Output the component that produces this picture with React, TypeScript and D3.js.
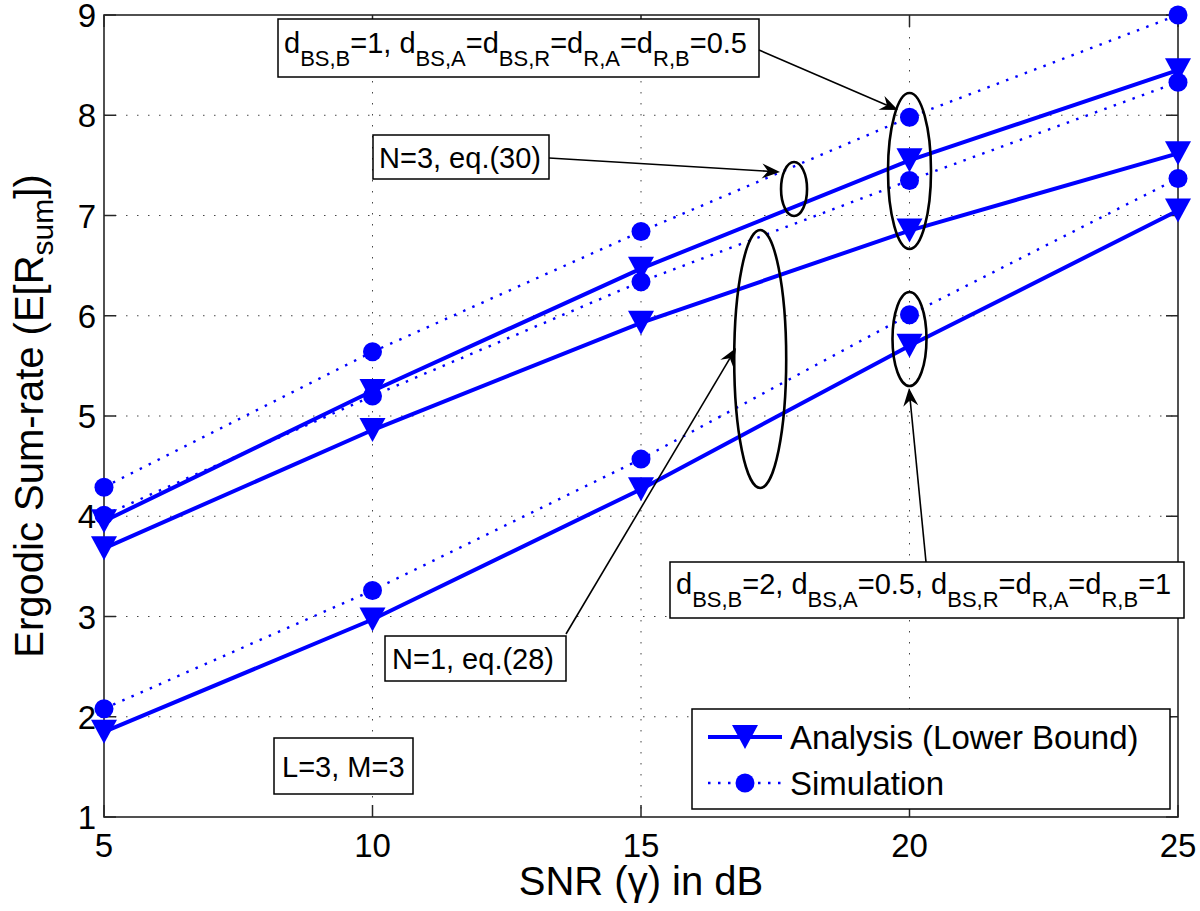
import React from 'react';
import * as d3 from 'd3';

// ---- data ----
const snr = [5, 10, 15, 20, 25];
const analysisN3 = [3.95, 5.25, 6.47, 7.55, 8.45];
const simN3 = [4.29, 5.64, 6.84, 7.98, 9.0];
const analysisN1 = [3.68, 4.86, 5.93, 6.85, 7.62];
const simN1 = [4.01, 5.2, 6.34, 7.35, 8.33];
const analysisCfg2 = [1.85, 2.97, 4.27, 5.7, 7.05];
const simCfg2 = [2.08, 3.26, 4.57, 6.01, 7.37];
const xTicks = [5, 10, 15, 20, 25];
const yTicks = [1, 2, 3, 4, 5, 6, 7, 8, 9];

const W = 1200;
const H = 911;
const M = { left: 104, right: 1178, top: 15, bottom: 817 };
const BLUE = '#0000ff';
const FONT = '"Liberation Sans", Arial, Helvetica, sans-serif';
const AX = '#262626';

type Seg = { t: string; sub?: boolean };

function RichText({ x, y, segs, size, subSize, subDy, anchor, transform }: {
  x: number; y: number; segs: Seg[]; size: number; subSize: number; subDy: number; anchor?: string; transform?: string;
}) {
  const out: React.ReactNode[] = [];
  let down = false;
  segs.forEach((s, i) => {
    let dy = 0;
    if (s.sub && !down) { dy = subDy; down = true; }
    else if (!s.sub && down) { dy = -subDy; down = false; }
    out.push(
      <tspan key={i} dy={dy} fontSize={s.sub ? subSize : size}>{s.t}</tspan>
    );
  });
  return (
    <text x={x} y={y} fontFamily={FONT} fontSize={size} fill="#000" textAnchor={anchor || 'start'} transform={transform}>
      {out}
    </text>
  );
}

function Arrow({ x1, y1, x2, y2 }: { x1: number; y1: number; x2: number; y2: number }) {
  const dx = x2 - x1, dy = y2 - y1;
  const len = Math.hypot(dx, dy);
  const ux = dx / len, uy = dy / len;
  const px = -uy, py = ux;
  const L = 18, hw = 7.5, notch = 6;
  const bx = x2 - ux * L, by = y2 - uy * L;
  const nx = x2 - ux * (L - notch), ny = y2 - uy * (L - notch);
  const head = `M${x2},${y2} L${bx + px * hw},${by + py * hw} L${nx},${ny} L${bx - px * hw},${by - py * hw} Z`;
  return (
    <g>
      <line x1={x1} y1={y1} x2={nx} y2={ny} stroke="#000" strokeWidth={1.6} />
      <path d={head} fill="#000" />
    </g>
  );
}

export default function App() {
  const x = d3.scaleLinear().domain([5, 25]).range([M.left, M.right]);
  const y = d3.scaleLinear().domain([1, 9]).range([M.bottom, M.top]);
  const line = d3.line<number>().x((_, i) => x(snr[i])).y((v) => y(v));

  const analysis = [analysisN3, analysisN1, analysisCfg2];
  const sims = [simN3, simN1, simCfg2];

  const tri = (cx: number, cy: number) => `M${cx - 13},${cy - 12} L${cx + 13},${cy - 12} L${cx},${cy + 12} Z`;

  const subDy = 13;
  const annSize = 29;
  const annSub = 22;

  const ellipses = [
    { cx: 20, cy: 7.444, rx: 21.5, ry: 78 },
    { cx: 17.85, cy: 7.264, rx: 13, ry: 27 },
    { cx: 17.22, cy: 5.569, rx: 26, ry: 129 },
    { cx: 20, cy: 5.768, rx: 17, ry: 47 },
  ];

  return (
    <svg width={W} height={H} style={{ position: 'absolute', left: 0, top: 0, display: 'block', background: '#fff' }}>
      <rect x={0} y={0} width={W} height={H} fill="#fff" />
      {/* grid */}
      {xTicks.filter((t) => t !== 5 && t !== 25).map((t) => (
        <line key={'gx' + t} x1={x(t)} x2={x(t)} y1={M.top} y2={M.bottom} stroke="#444" strokeWidth={1} strokeDasharray="1.5,9.5" />
      ))}
      {yTicks.filter((t) => t !== 1 && t !== 9).map((t) => (
        <line key={'gy' + t} y1={y(t)} y2={y(t)} x1={M.left} x2={M.right} stroke="#444" strokeWidth={1} strokeDasharray="1.5,9.5" />
      ))}
      {/* axes box */}
      <rect x={M.left} y={M.top} width={M.right - M.left} height={M.bottom - M.top} fill="none" stroke={AX} strokeWidth={1.6} />
      {xTicks.map((t) => (
        <g key={'tx' + t}>
          <line x1={x(t)} x2={x(t)} y1={M.bottom} y2={M.bottom - 12} stroke={AX} strokeWidth={1.5} />
          <line x1={x(t)} x2={x(t)} y1={M.top} y2={M.top + 12} stroke={AX} strokeWidth={1.5} />
          <text x={x(t)} y={857} textAnchor="middle" fontFamily={FONT} fontSize={33} fill="#000">{t}</text>
        </g>
      ))}
      {yTicks.map((t) => (
        <g key={'ty' + t}>
          <line x1={M.left} x2={M.left + 12} y1={y(t)} y2={y(t)} stroke={AX} strokeWidth={1.5} />
          <line x1={M.right} x2={M.right - 12} y1={y(t)} y2={y(t)} stroke={AX} strokeWidth={1.5} />
          <text x={96} y={y(t) + 12} textAnchor="end" fontFamily={FONT} fontSize={33} fill="#000">{t}</text>
        </g>
      ))}
      {/* axis labels */}
      <text x={(M.left + M.right) / 2} y={895} textAnchor="middle" fontFamily={FONT} fontSize={40} fill="#000">SNR (γ) in dB</text>
      <RichText x={0} y={0} size={40} subSize={30} subDy={10} anchor="middle"
        transform={`translate(43,${(M.top + M.bottom) / 2}) rotate(-90)`}
        segs={[{ t: 'Ergodic Sum-rate (E[R' }, { t: 'sum', sub: true }, { t: '])' }]} />

      {/* series */}
      {sims.map((s, k) => (
        <path key={'sl' + k} d={line(s) || ''} fill="none" stroke={BLUE} strokeWidth={2.4} strokeDasharray="2.5,7.5" />
      ))}
      {analysis.map((s, k) => (
        <path key={'al' + k} d={line(s) || ''} fill="none" stroke={BLUE} strokeWidth={4} />
      ))}
      {sims.map((s, k) => s.map((v, i) => (
        <circle key={'sc' + k + '-' + i} cx={x(snr[i])} cy={y(v)} r={9.5} fill={BLUE} />
      )))}
      {analysis.map((s, k) => s.map((v, i) => (
        <path key={'at' + k + '-' + i} d={tri(x(snr[i]), y(v))} fill={BLUE} />
      )))}

      {/* ellipses */}
      {ellipses.map((e, i) => (
        <ellipse key={'el' + i} cx={x(e.cx)} cy={y(e.cy)} rx={e.rx} ry={e.ry} fill="none" stroke="#000" strokeWidth={2.6} />
      ))}

      {/* annotation boxes */}
      <rect x={278} y={19} width={481} height={58} fill="#fff" stroke="#000" strokeWidth={1.5} />
      <RichText x={284} y={53} size={annSize} subSize={annSub} subDy={subDy}
        segs={[{ t: 'd' }, { t: 'BS,B', sub: true }, { t: '=1, d' }, { t: 'BS,A', sub: true }, { t: '=d' }, { t: 'BS,R', sub: true }, { t: '=d' }, { t: 'R,A', sub: true }, { t: '=d' }, { t: 'R,B', sub: true }, { t: '=0.5' }]} />

      <rect x={373} y={135} width={176} height={44} fill="#fff" stroke="#000" strokeWidth={1.5} />
      <text x={379} y={168} fontFamily={FONT} fontSize={annSize} fill="#000">N=3, eq.(30)</text>

      <rect x={385} y={636} width={181} height={45} fill="#fff" stroke="#000" strokeWidth={1.5} />
      <text x={392} y={669} fontFamily={FONT} fontSize={annSize} fill="#000">N=1, eq.(28)</text>

      <rect x={670} y={562} width={514} height={56} fill="#fff" stroke="#000" strokeWidth={1.5} />
      <RichText x={676} y={594} size={annSize} subSize={annSub} subDy={subDy}
        segs={[{ t: 'd' }, { t: 'BS,B', sub: true }, { t: '=2, d' }, { t: 'BS,A', sub: true }, { t: '=0.5, d' }, { t: 'BS,R', sub: true }, { t: '=d' }, { t: 'R,A', sub: true }, { t: '=d' }, { t: 'R,B', sub: true }, { t: '=1' }]} />

      <rect x={274} y={738} width={139} height={56} fill="#fff" stroke="#000" strokeWidth={1.5} />
      <text x={282} y={777} fontFamily={FONT} fontSize={annSize} fill="#000">L=3, M=3</text>

      {/* arrows */}
      <Arrow x1={759} y1={50} x2={898} y2={110} />
      <Arrow x1={549} y1={158} x2={780} y2={172} />
      <Arrow x1={566} y1={634} x2={736} y2={348} />
      <Arrow x1={926} y1={562} x2={909} y2={388} />

      {/* legend */}
      <rect x={692} y={709} width={478} height={100} fill="#fff" stroke="#000" strokeWidth={1.5} />
      <line x1={708} x2={782} y1={737} y2={737} stroke={BLUE} strokeWidth={4} />
      <path d={tri(745, 737)} fill={BLUE} />
      <text x={790} y={749} fontFamily={FONT} fontSize={33} fill="#000">Analysis (Lower Bound)</text>
      <line x1={708} x2={782} y1={783} y2={783} stroke={BLUE} strokeWidth={2.4} strokeDasharray="2.5,7.5" />
      <circle cx={745} cy={783} r={9.5} fill={BLUE} />
      <text x={790} y={795} fontFamily={FONT} fontSize={33} fill="#000">Simulation</text>
    </svg>
  );
}
